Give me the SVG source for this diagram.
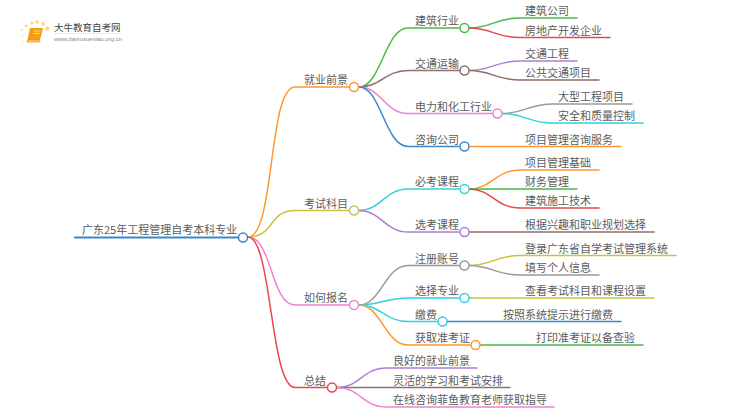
<svg xmlns="http://www.w3.org/2000/svg" width="750" height="410" viewBox="0 0 750 410">
<style>
text{font-family:"Noto Sans CJK SC","Liberation Sans",sans-serif;font-size:11px;fill:#5c5c5c}
.c{fill:none;stroke-width:1.5;stroke-linecap:round}
.n{fill:#fff;stroke-width:1.5}
.or{stroke:#ff9632}.gr{stroke:#4cb848}.re{stroke:#e64848}.pu{stroke:#a97fd6}.br{stroke:#8f6f66}.pi{stroke:#ee82d0}.gy{stroke:#999}.cy{stroke:#33cfe2}.bl{stroke:#3a88c8}.ol{stroke:#c9c340}
</style>
<rect width="750" height="410" fill="#fff"/>
<g id="logo">
<g fill="#ffd980"><circle cx="37" cy="22" r="1.800"/><circle cx="32" cy="23" r="1.700"/><circle cx="26" cy="26" r="1.500"/><circle cx="22" cy="30" r="1.300" opacity=".7"/><circle cx="22" cy="36" r="1.100" opacity=".6"/><circle cx="23" cy="42" r="1" opacity=".5"/><circle cx="43" cy="24" r="1.900"/><circle cx="47.500" cy="28.500" r="2.200"/></g>
<path d="M30 28H43L40 40H27.500Z" fill="#f59c12"/><path d="M27.500 40H40L39.500 42H27Z" fill="#fbd08a" stroke="#ef8a10" stroke-width=".7"/><path d="M33.500 31H40.500M33 33.500H40" stroke="#fde2a8" stroke-width=".9"/>
<text x="54" y="31" style="font-size:9.500px;fill:#444">大牛教育自考网</text>
<path d="M54 33.500H121" stroke="#ddd" stroke-width=".6"/>
<text x="54" y="40.500" style="font-size:6px;fill:#888;font-family:'Liberation Sans',sans-serif">www.daniuxuexiao.org.cn</text>
</g>
<g id="connectors">
<path class="c bl" d="M75 237.500H238" style="stroke-width:2"/>
<path class="c or" d="M248 237C275 237 268 87 295 87H349"/>
<path class="c ol" d="M248 237C275 237 268 210.500 295 210.500H349"/>
<path class="c pi" d="M248 237C272 237 271 305 295 305H349"/>
<path class="c re" d="M248 237C272 237 270 387.500 295 387.500H327"/>
<path class="c gr" d="M359 87C381 87 385 28 408 28H459"/>
<path class="c br" d="M359 87C381 87 385 70.500 408 70.500H459"/>
<path class="c pi" d="M359 87C381 87 385 113.500 408 113.500H492"/>
<path class="c bl" d="M359 87C381 87 385 146.500 408 146.500H459"/>
<path class="c cy" d="M359 210.500C381 210.500 385 189 408 189H459"/>
<path class="c pu" d="M359 210.500C381 210.500 385 232 408 232H459"/>
<path class="c gy" d="M359 305C381 305 385 265.500 408 265.500H459"/>
<path class="c cy" d="M359 305C381 305 385 298 408 298H459"/>
<path class="c cy" d="M359 305C381 305 385 321.500 408 321.500H437"/>
<path class="c or" d="M359 305C381 305 385 345 408 345H470"/>
<path class="c gr" d="M469 28C492 28 495 18 520 18H577"/>
<path class="c re" d="M469 28C492 28 495 37.500 520 37.500H610"/>
<path class="c pu" d="M469 70.500C492 70.500 495 61 520 61H577"/>
<path class="c br" d="M469 70.500C492 70.500 495 80 520 80H599"/>
<path class="c gy" d="M502 113.500C525 113.500 528 104 553 104H632"/>
<path class="c cy" d="M502 113.500C525 113.500 528 123 553 123H643"/>
<path class="c or" d="M469 146.500H621"/>
<path class="c or" d="M469 189C492 189 495 170 520 170H599"/>
<path class="c gr" d="M469 189H577"/>
<path class="c re" d="M469 189C492 189 495 208 520 208H599"/>
<path class="c br" d="M469 232H654"/>
<path class="c ol" d="M469 265.500C492 265.500 495 255.500 520 255.500H676"/>
<path class="c gy" d="M469 265.500C492 265.500 495 275 520 275H599"/>
<path class="c ol" d="M469 298H654"/>
<path class="c bl" d="M447 321.500H621"/>
<path class="c gr" d="M480 345H643"/>
<path class="c pu" d="M337 387.500C360 387.500 362 368 387 368H477"/>
<path class="c br" d="M337 387.500H510"/>
<path class="c pi" d="M337 387.500C360 387.500 362 407 387 407H554"/>
</g>
<g id="root"><text x="82" y="234">广东25年工程管理自考本科专业</text><circle class="n bl" cx="243" cy="237.500" r="4.500"/></g>
<g id="n1"><text x="304" y="84">就业前景</text><circle class="n or" cx="354" cy="87" r="4.500"/></g>
<g id="n2"><text x="304" y="207.500">考试科目</text><circle class="n ol" cx="354" cy="210.500" r="4.500"/></g>
<g id="n3"><text x="304" y="302">如何报名</text><circle class="n pi" cx="354" cy="305" r="4.500"/></g>
<g id="n4"><text x="304" y="384.500">总结</text><circle class="n re" cx="332" cy="387.500" r="4.500"/></g>
<g id="n11"><text x="415" y="25">建筑行业</text><circle class="n gr" cx="464.500" cy="28" r="4.500"/></g>
<g id="n12"><text x="415" y="67.500">交通运输</text><circle class="n br" cx="464.500" cy="70.500" r="4.500"/></g>
<g id="n13"><text x="415" y="110.500">电力和化工行业</text><circle class="n pi" cx="497.500" cy="113.500" r="4.500"/></g>
<g id="n14"><text x="415" y="143.500">咨询公司</text><circle class="n bl" cx="464.500" cy="146.500" r="4.500"/></g>
<g id="n21"><text x="415" y="186">必考课程</text><circle class="n cy" cx="464.500" cy="189" r="4.500"/></g>
<g id="n22"><text x="415" y="229">选考课程</text><circle class="n pu" cx="464.500" cy="232" r="4.500"/></g>
<g id="n31"><text x="415" y="262.500">注册账号</text><circle class="n gy" cx="464.500" cy="265.500" r="4.500"/></g>
<g id="n32"><text x="415" y="295">选择专业</text><circle class="n cy" cx="464.500" cy="298" r="4.500"/></g>
<g id="n33"><text x="415" y="318.500">缴费</text><circle class="n cy" cx="442.500" cy="321.500" r="4.500"/></g>
<g id="n34"><text x="415" y="342">获取准考证</text><circle class="n or" cx="475.500" cy="345" r="4.500"/></g>
<g id="leaf1"><text x="525" y="15">建筑公司</text></g>
<g id="leaf2"><text x="525" y="34.500">房地产开发企业</text></g>
<g id="leaf3"><text x="525" y="58">交通工程</text></g>
<g id="leaf4"><text x="525" y="77">公共交通项目</text></g>
<g id="leaf5"><text x="558" y="101">大型工程项目</text></g>
<g id="leaf6"><text x="558" y="120">安全和质量控制</text></g>
<g id="leaf7"><text x="525" y="143.500">项目管理咨询服务</text></g>
<g id="leaf8"><text x="525" y="167">项目管理基础</text></g>
<g id="leaf9"><text x="525" y="186">财务管理</text></g>
<g id="leaf10"><text x="525" y="205">建筑施工技术</text></g>
<g id="leaf11"><text x="525" y="229">根据兴趣和职业规划选择</text></g>
<g id="leaf12"><text x="525" y="252.500">登录广东省自学考试管理系统</text></g>
<g id="leaf13"><text x="525" y="272">填写个人信息</text></g>
<g id="leaf14"><text x="525" y="295">查看考试科目和课程设置</text></g>
<g id="leaf15"><text x="503" y="318.500">按照系统提示进行缴费</text></g>
<g id="leaf16"><text x="536" y="342">打印准考证以备查验</text></g>
<g id="leaf17"><text x="393" y="365">良好的就业前景</text></g>
<g id="leaf18"><text x="393" y="384.500">灵活的学习和考试安排</text></g>
<g id="leaf19"><text x="393" y="404">在线咨询菲鱼教育老师获取指导</text></g>
</svg>
